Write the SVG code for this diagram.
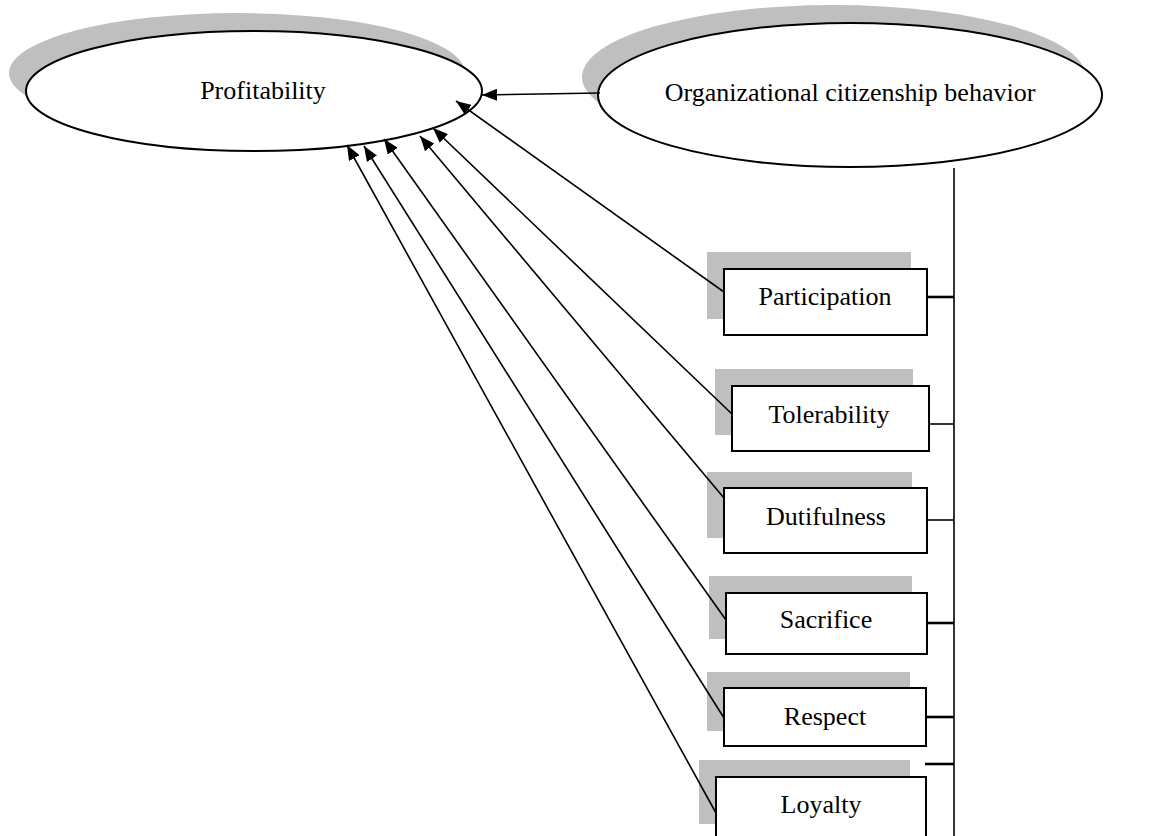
<svg xmlns="http://www.w3.org/2000/svg" width="1154" height="836" viewBox="0 0 1154 836">
<style>
.shadow{fill:#bfbfbf;stroke:none}
.ell{fill:#fff;stroke:#000;stroke-width:2}
.box{fill:#fff;stroke:#000;stroke-width:2}
.lbl{font-family:"Liberation Serif","Times New Roman",serif;font-size:26px;fill:#000;text-anchor:middle}
.conn{stroke:#000;stroke-width:1.6;fill:none}
.thick{stroke:#000;stroke-width:2.6;fill:none}
</style>
<defs>
<marker id="arrow" markerWidth="15" markerHeight="12" refX="15" refY="6" orient="auto" markerUnits="userSpaceOnUse">
<path d="M0,0 L15,6 L0,12 z" fill="#000"/>
</marker>
</defs>
<rect width="1154" height="836" fill="#fff"/>
<g id="profitability">
<ellipse class="shadow" cx="237" cy="73" rx="228" ry="60"/>
<ellipse class="ell" cx="254" cy="91" rx="228" ry="60"/>
<text class="lbl" x="263" y="99">Profitability</text>
</g>
<g id="ocb">
<ellipse class="shadow" cx="834" cy="77" rx="252" ry="72"/>
<ellipse class="ell" cx="850" cy="95" rx="252" ry="72"/>
<text class="lbl" x="850" y="101">Organizational citizenship behavior</text>
</g>
<g id="participation">
<rect class="shadow" x="707" y="252" width="204" height="67"/>
<rect class="box" x="724" y="269" width="203" height="66"/>
<text class="lbl" x="825" y="305">Participation</text>
</g>
<g id="tolerability">
<rect class="shadow" x="715" y="369" width="198" height="66"/>
<rect class="box" x="732" y="386" width="197" height="65"/>
<text class="lbl" x="829" y="423">Tolerability</text>
</g>
<g id="dutifulness">
<rect class="shadow" x="707" y="472" width="205" height="66"/>
<rect class="box" x="724" y="488" width="203" height="65"/>
<text class="lbl" x="826" y="525">Dutifulness</text>
</g>
<g id="sacrifice">
<rect class="shadow" x="709" y="576" width="203" height="63"/>
<rect class="box" x="726" y="593" width="201" height="61"/>
<text class="lbl" x="826" y="628">Sacrifice</text>
</g>
<g id="respect">
<rect class="shadow" x="707" y="672" width="203" height="59"/>
<rect class="box" x="724" y="688" width="202" height="58"/>
<text class="lbl" x="825" y="725">Respect</text>
</g>
<g id="loyalty">
<rect class="shadow" x="699" y="760" width="211" height="64"/>
<rect class="box" x="716" y="777" width="210" height="70"/>
<text class="lbl" x="821" y="813">Loyalty</text>
</g>
<g id="connectors">
<line class="conn" x1="600" y1="93" x2="482" y2="95" marker-end="url(#arrow)"/>
<line class="conn" x1="724" y1="292" x2="456" y2="101" marker-end="url(#arrow)"/>
<line class="conn" x1="732" y1="414" x2="433" y2="128" marker-end="url(#arrow)"/>
<line class="conn" x1="724" y1="498" x2="420" y2="136" marker-end="url(#arrow)"/>
<line class="conn" x1="726" y1="620" x2="384" y2="139" marker-end="url(#arrow)"/>
<line class="conn" x1="724" y1="718" x2="364" y2="146" marker-end="url(#arrow)"/>
<line class="conn" x1="716" y1="813" x2="347" y2="145" marker-end="url(#arrow)"/>
<line class="conn" x1="954" y1="168" x2="954" y2="836"/>
<line class="thick" x1="927" y1="297" x2="954" y2="297"/>
<line class="conn" x1="929" y1="424" x2="954" y2="424"/>
<line class="conn" x1="927" y1="520" x2="954" y2="520"/>
<line class="thick" x1="927" y1="623" x2="954" y2="623"/>
<line class="thick" x1="926" y1="717" x2="954" y2="717"/>
<line class="thick" x1="925" y1="764" x2="954" y2="764"/>
</g>
</svg>
